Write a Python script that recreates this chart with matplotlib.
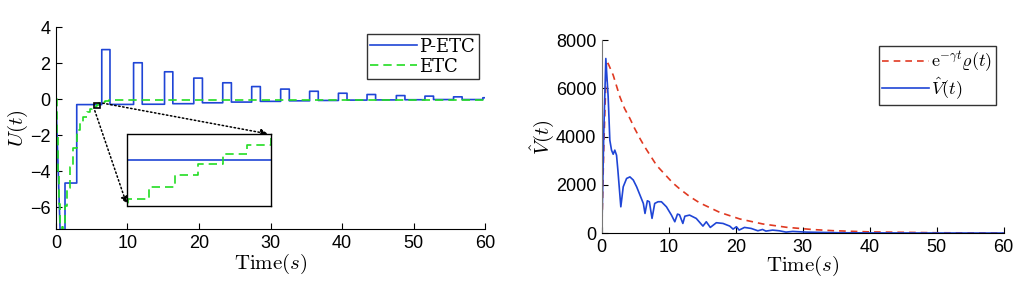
import numpy as np
import matplotlib.pyplot as plt
from matplotlib.patches import Rectangle

plt.rcParams['mathtext.fontset'] = 'cm'
plt.rcParams['font.family'] = ['Liberation Sans', 'DejaVu Sans']

# P-ETC control: initial ramp, then held values after each switching instant
petc_ramp_t = [0.0, 0.6]
petc_ramp_u = [0.0, -7.6]
petc_switch_t = [1.26, 2.9, 6.4, 7.55, 10.85, 12.06, 15.18, 16.34, 19.27, 20.48,
                 23.32, 24.53, 27.37, 28.58, 31.42, 32.63, 35.47, 36.68, 39.5, 40.7,
                 43.5, 44.7, 47.6, 48.8, 51.6, 52.8, 55.6, 56.8, 59.7]
petc_hold_u = [-4.65, -0.3, 2.75, -0.29, 2.02, -0.28, 1.52, -0.25, 1.17, -0.2,
               0.91, -0.16, 0.70, -0.12, 0.56, -0.09, 0.44, -0.07, 0.33, -0.05,
               0.26, -0.04, 0.20, -0.03, 0.17, -0.02, 0.13, -0.02, 0.08]

# ETC control (event-triggered steps)
etc_t = [0.0, 0.15, 0.3, 0.45, 0.6, 0.8, 1.0, 1.3, 1.6, 2.0, 2.4, 2.9, 3.4, 3.8,
         4.3, 4.8, 5.1, 5.3, 5.43, 5.58, 5.72, 5.87, 6.01, 6.15, 6.5, 6.9, 7.4,
         8.0, 9.0, 10.0, 60.0]
etc_u = [0.0, -2.0, -4.0, -5.8, -6.9, -7.25, -7.0, -5.9, -4.9, -3.76, -2.7, -1.7,
         -1.25, -0.98, -0.72, -0.56, -0.5, -0.459, -0.409, -0.36, -0.314, -0.272,
         -0.235, -0.2, -0.15, -0.1, -0.07, -0.05, -0.03, -0.02, -0.02]

# Lyapunov function and its bound
bound_t = [0.0, 0.3, 0.7, 0.95, 1.7, 2.7, 3.4, 4.2, 4.9, 5.7, 6.4, 8.2, 10.6, 11.6,
           13.1, 14.6, 17.6, 20.6, 24.0, 27.6, 31.5, 34.5, 40.0, 50.0, 60.0]
bound_v = [0, 3600, 7150, 7030, 6550, 5650, 5165, 4750, 4340, 3920, 3580, 2800,
           2080, 1840, 1520, 1255, 860, 586, 380, 240, 147, 100, 50, 14, 4]
vhat_t = [0.0, 0.3, 0.6, 0.95, 1.2, 1.45, 1.7, 1.94, 2.2, 2.4, 2.84, 3.2, 3.7, 4.2,
          4.7, 5.2, 5.7, 6.2, 6.45, 6.8, 7.1, 7.5, 7.9, 8.4, 8.9, 9.65, 10.4, 10.9,
          11.3, 11.6, 12.1, 12.4, 13.1, 14.1, 15.1, 15.6, 16.2, 17.1, 18.1, 19.1,
          19.6, 20.1, 20.5, 21.3, 22.3, 23.3, 24.0, 24.5, 25.5, 26.5, 27.5, 28.5,
          30.5, 35.5, 40.0, 50.0, 60.0]
vhat_v = [0, 4200, 7240, 5650, 3850, 3440, 3270, 3440, 3230, 2610, 1090, 1920, 2265,
          2330, 2200, 1920, 1575, 1230, 815, 1340, 1300, 610, 1230, 1300, 1300, 1090,
          745, 470, 787, 760, 400, 700, 746, 608, 290, 470, 235, 430, 400, 290, 165,
          263, 124, 235, 193, 96, 150, 83, 124, 96, 41, 69, 41, 14, 8, 3, 2]

blue = '#1f45d6'
green = '#22dd22'
red = '#e03a22'

# build P-ETC sample-and-hold path
px = list(petc_ramp_t)
py = list(petc_ramp_u)
for t, u in zip(petc_switch_t, petc_hold_u):
    px += [t, t]
    py += [py[-1], u]
px.append(60.0)
py.append(py[-1])

fig = plt.figure(figsize=(10.2, 2.91), dpi=100)
ax1 = fig.add_axes([0.0549, 0.213, 0.4206, 0.694])
ax2 = fig.add_axes([0.590, 0.199, 0.394, 0.663])

ax1.plot(px, py, color=blue, lw=1.2, label='P-ETC')
ax1.step(etc_t, etc_u, where='post', color=green, lw=1.2, ls=(0, (5, 3)), label='ETC')
ax1.set_xlim(0, 60)
ax1.set_ylim(-7.2, 4)
ax1.set_xticks(np.arange(0, 61, 10))
ax1.set_yticks(np.arange(-6, 5, 2))
ax1.set_xlabel(r'$\mathrm{Time}(s)$', fontsize=15, labelpad=0)
ax1.set_ylabel(r'$U(t)$', fontsize=15, labelpad=0)
leg = ax1.legend(loc='upper right', bbox_to_anchor=(0.985, 0.965), fontsize=13,
                 frameon=True, fancybox=False, edgecolor='k', handlelength=2.6,
                 handletextpad=0.1, borderpad=0.2, labelspacing=0.1, borderaxespad=0)
leg.get_frame().set_linewidth(1.0)
for t in leg.get_texts():
    t.set_fontfamily('DejaVu Serif')

# zoomed inset
zx = (5.3, 6.15)
zy = (-0.492, -0.192)
axin = ax1.inset_axes([10, -5.95, 20, 4], transform=ax1.transData)
axin.plot(px, py, color=blue, lw=1.2)
axin.step(etc_t, etc_u, where='post', color=green, lw=1.2, ls=(0, (5, 3)))
axin.set_xlim(*zx)
axin.set_ylim(*zy)
axin.set_xticks([])
axin.set_yticks([])
for s in axin.spines.values():
    s.set_linewidth(1.0)
ax1.add_patch(Rectangle((zx[0], zy[0]), zx[1] - zx[0], zy[1] - zy[0], fill=False,
                        ec='k', lw=1.2, zorder=5))
arrow = dict(arrowstyle='-|>', color='k', ls=':', lw=1.1, mutation_scale=10)
ax1.annotate('', xy=(30, -1.95), xytext=(zx[1], zy[1]), arrowprops=arrow)
ax1.annotate('', xy=(10, -5.95), xytext=(zx[0], zy[0]), arrowprops=arrow)

ax2.plot(bound_t, bound_v, color=red, lw=1.2, ls=(0, (4, 3)),
         label=r'$\mathrm{e}^{-\gamma t}\varrho(t)$')
ax2.plot(vhat_t, vhat_v, color=blue, lw=1.2, label=r'$\hat{V}(t)$')
ax2.set_xlim(0, 60)
ax2.set_ylim(0, 8000)
ax2.set_xticks(np.arange(0, 61, 10))
ax2.set_yticks(np.arange(0, 8001, 2000))
ax2.set_xlabel(r'$\mathrm{Time}(s)$', fontsize=15, labelpad=-1)
ax2.set_ylabel(r'$\hat{V}(t)$', fontsize=15, labelpad=0)
leg2 = ax2.legend(loc='upper right', bbox_to_anchor=(0.98, 0.97), fontsize=13,
                  frameon=True, fancybox=False, edgecolor='k', handlelength=2.6,
                  handletextpad=0.1, borderpad=0.2, labelspacing=0.1, borderaxespad=0)
leg2.get_frame().set_linewidth(1.0)

for ax in (ax1, ax2):
    ax.spines['top'].set_visible(False)
    ax.spines['right'].set_visible(False)
    ax.tick_params(direction='in', length=4, labelsize=13, top=False, right=False, pad=4)
ax2.spines['left'].set_color('#777777')

fig.savefig('out.png', dpi=100)
